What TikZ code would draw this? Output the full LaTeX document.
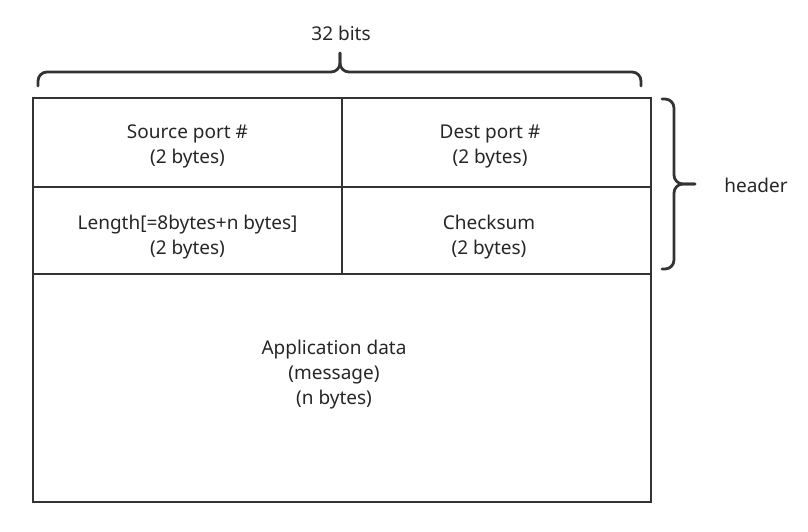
\documentclass[tikz,border=0pt]{standalone}
\usepackage{fontspec}
\setmainfont{Noto Sans}
\begin{document}
\begin{tikzpicture}[x=1pt,y=-1pt,
  frame/.style={draw=black!80,line width=2.8pt},
  brace/.style={draw=black!80,line width=2.8pt,line cap=round,rounded corners=9pt},
  lbl/.style={align=center,font=\fontsize{19}{25}\selectfont,text=black!85,inner sep=0pt}]
\useasboundingbox (0,0) rectangle (808,532);
% frame
\coordinate (tl) at (33,98);
\coordinate (br) at (651,502);
\draw[frame] (tl) rectangle (br);
\coordinate (m1) at (33,187);
\coordinate (m1r) at (651,187);
\coordinate (m2) at (33,274);
\coordinate (m2r) at (651,274);
\coordinate (vt) at (342,98);
\coordinate (vb) at (342,274);
\draw[frame] (m1) -- (m1r);
\draw[frame] (m2) -- (m2r);
\draw[frame] (vt) -- (vb);
% texts
\node[lbl] (sp) at (187.5,146) {Source port \#\\(2 bytes)};
\node[lbl] (dp) at (490,146) {Dest port \#\\(2 bytes)};
\node[lbl] (len) at (187.5,237) {Length[=8bytes+n bytes]\\(2 bytes)};
\node[lbl] (cs) at (489,237) {Checksum\\(2 bytes)};
\node[lbl] (app) at (334,375) {Application data\\(message)\\(n bytes)};
% top brace
\draw[brace] (38,86) -- (38,72) -- (340,72) -- (340,53);
\draw[brace] (340,53) -- (340,72) -- (641,72) -- (641,86);
\node[lbl] (bits) at (341,33) {32 bits};
% right brace
\draw[brace] (662,99) -- (674,99) -- (674,184) -- (695,184);
\draw[brace] (695,184) -- (674,184) -- (674,269) -- (662,269);
\node[lbl] (hdr) at (756,185) {header};
\end{tikzpicture}
\end{document}
